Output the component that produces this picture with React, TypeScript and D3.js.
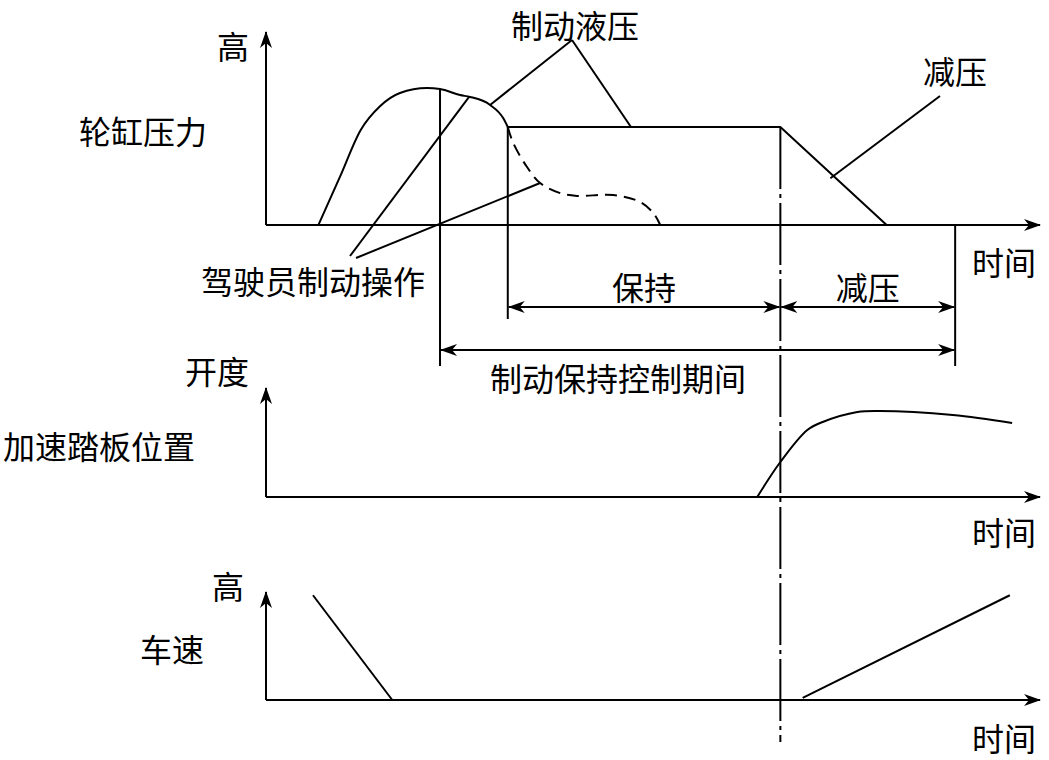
import React, { useEffect, useRef } from 'react';
import * as d3 from 'd3';

// time axis runs 0..100, each panel value axis 0..100
const pressureRise = [
  [6.8, 0], [9.6, 25.3], [12.3, 50], [14.8, 62.5], [17.4, 69.5], [20.9, 72.1],
  [22.6, 71.6], [25.2, 68.4], [26.5, 67.4], [29.1, 63.2], [30.8, 56.3], [31.4, 51.6],
];
const pressureHold = [[31.4, 51.6], [66.8, 51.6], [80.6, 0]];
const pressureDrop = [
  [31.4, 51.6], [32.1, 43.2], [33.9, 30.5], [35.6, 22.1], [38.2, 16.8],
  [40.4, 15.3], [45.1, 15.8], [48.6, 12.1], [50.3, 6.3], [51.2, 0],
];
const pedal = [
  [63.8, 0], [66.8, 32.7], [70.3, 62.6], [72.3, 70.1], [76.8, 79.4],
  [79.7, 80.4], [89.2, 76.6], [96.9, 69.2],
];
const speedDown = [[6.1, 97], [16.4, 0]];
const speedUp = [[69.7, 2], [96.6, 97]];

// phase boundaries on the time axis
const controlStart = 22.6;
const holdStart = 31.4;
const releaseStart = 66.8;
const controlEnd = 89.5;

const phaseLabels = ['保持', '减压', '制动保持控制期间'];

function App() {
  const ref = useRef(null);

  useEffect(() => {
    const svg = d3.select(ref.current);
    svg.selectAll('*').remove();

    const x = d3.scaleLinear().domain([0, 100]).range([266, 1036]);
    const yP = d3.scaleLinear().domain([0, 100]).range([225, 35]);
    const yA = d3.scaleLinear().domain([0, 100]).range([497, 390]);
    const yS = d3.scaleLinear().domain([0, 100]).range([700, 592]);

    const defs = svg.append('defs');
    defs.append('marker')
      .attr('id', 'arr')
      .attr('markerUnits', 'userSpaceOnUse')
      .attr('markerWidth', 20).attr('markerHeight', 14)
      .attr('viewBox', '-16 -7 20 14')
      .attr('refX', 1).attr('refY', 0)
      .attr('orient', 'auto-start-reverse')
      .append('path')
      .attr('d', 'M2,0 L-15,-6 L-10,0 L-15,6 Z')
      .attr('fill', '#000');

    const ink = (sel) => sel.attr('fill', 'none').attr('stroke', '#000').attr('stroke-width', 2);
    const line = (ys, curve) => d3.line().x(d => x(d[0])).y(d => ys(d[1])).curve(curve || d3.curveLinear);

    const text = (t, cx, cy) => svg.append('text')
      .attr('x', cx).attr('y', cy)
      .attr('text-anchor', 'middle')
      .attr('dominant-baseline', 'central')
      .style('font-family', '"Noto Sans CJK SC", sans-serif')
      .style('font-size', '32px')
      .attr('fill', '#000')
      .text(t);

    // axes
    [[yP, 32], [yA, 388], [yS, 592]].forEach(([ys, top]) => {
      svg.append('line').call(ink)
        .attr('x1', x(0)).attr('y1', ys(0)).attr('x2', x(0)).attr('y2', top)
        .attr('marker-end', 'url(#arr)');
      svg.append('line').call(ink)
        .attr('x1', x(0)).attr('y1', ys(0)).attr('x2', 1040).attr('y2', ys(0))
        .attr('marker-end', 'url(#arr)');
    });

    // wheel cylinder pressure
    svg.append('path').datum(pressureRise).call(ink).attr('d', line(yP, d3.curveMonotoneX));
    svg.append('path').datum(pressureHold).call(ink).attr('d', line(yP));
    svg.append('path').datum(pressureDrop).call(ink)
      .attr('stroke-dasharray', '12,7')
      .attr('d', line(yP, d3.curveCatmullRom));

    // accelerator pedal
    svg.append('path').datum(pedal).call(ink).attr('d', line(yA, d3.curveCatmullRom));

    // vehicle speed
    svg.append('path').datum(speedDown).call(ink).attr('d', line(yS));
    svg.append('path').datum(speedUp).call(ink).attr('d', line(yS));

    // phase boundaries
    svg.append('line').call(ink)
      .attr('x1', x(controlStart)).attr('y1', yP(71.6)).attr('x2', x(controlStart)).attr('y2', 366);
    svg.append('line').call(ink)
      .attr('x1', x(holdStart)).attr('y1', yP(51.6)).attr('x2', x(holdStart)).attr('y2', 319);
    svg.append('line').call(ink)
      .attr('x1', x(controlEnd)).attr('y1', yP(0)).attr('x2', x(controlEnd)).attr('y2', 366);
    svg.append('line').call(ink)
      .attr('x1', x(releaseStart)).attr('y1', yP(51.6)).attr('x2', x(releaseStart)).attr('y2', 742)
      .attr('stroke-dasharray', '62,5,4,5');

    // interval arrows
    const span = (a, b, yy) => svg.append('line').call(ink)
      .attr('x1', x(a) + 1).attr('y1', yy).attr('x2', x(b) - 1).attr('y2', yy)
      .attr('marker-start', 'url(#arr)').attr('marker-end', 'url(#arr)');
    span(holdStart, releaseStart, 307);
    span(releaseStart, controlEnd, 307);
    span(controlStart, controlEnd, 350);
    text(phaseLabels[0], (x(holdStart) + x(releaseStart)) / 2, 286);
    text(phaseLabels[1], (x(releaseStart) + x(controlEnd)) / 2, 286);
    text(phaseLabels[2], 618, 377);

    // leader lines
    const lead = (x1, y1, x2, y2) => svg.append('line').call(ink)
      .attr('x1', x1).attr('y1', y1).attr('x2', x2).attr('y2', y2);
    lead(572, 40, x(29.1), yP(63.2));
    lead(572, 40, x(47.4), yP(51.6));
    lead(350, 256, x(26.4), yP(67.6));
    lead(356, 258, x(35.6), yP(22.1));
    lead(x(73.3), yP(24.6), 940, 96);

    // labels
    text('制动液压', 575, 24);
    text('减压', 955, 70);
    text('高', 233, 45);
    text('轮缸压力', 143, 130);
    text('驾驶员制动操作', 313, 280);
    text('时间', 1004, 261);
    text('开度', 217, 370);
    text('加速踏板位置', 99, 445);
    text('时间', 1004, 531);
    text('高', 228, 585);
    text('车速', 172, 648);
    text('时间', 1004, 737);
  }, []);

  return (
    <svg ref={ref} width={1049} height={760}
      style={{ position: 'absolute', left: 0, top: 0, background: '#fff' }} />
  );
}

export default App;
